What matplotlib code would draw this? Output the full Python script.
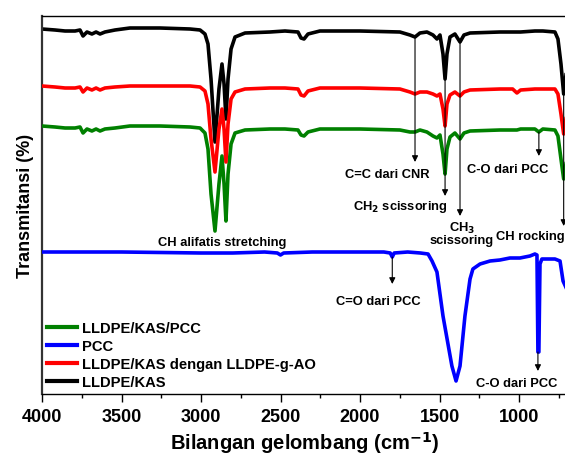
import numpy as np
import matplotlib.pyplot as plt
from matplotlib.ticker import MultipleLocator

plt.rcParams['font.family'] = ['Liberation Sans', 'DejaVu Sans']
plt.rcParams['font.weight'] = 'bold'

# spectra (wavenumber, arbitrary transmittance units with offsets)
wn_poly = [4000, 3918, 3855, 3792, 3761, 3742, 3717, 3686, 3660, 3635, 3604, 3541,
           3447, 3258, 3069, 3006, 2975, 2956, 2937, 2912, 2887, 2868, 2855, 2843,
           2830, 2811, 2786, 2723, 2566, 2472, 2390, 2371, 2352, 2327, 2252, 2000,
           1749, 1686, 1654, 1623, 1579, 1541, 1516, 1497, 1478, 1465, 1453, 1434,
           1403, 1371, 1346, 1308, 1120, 1040, 1013, 990, 900, 875, 850, 774, 755,
           736, 719, 700]

t_kas = [370, 369, 368, 368, 369, 363, 367, 365, 367, 365, 367, 369,
         371, 371, 370, 369, 365, 355, 320, 257, 310, 335, 315, 280,
         320, 350, 362, 366, 367, 368, 367, 361, 360, 365, 368, 368,
         367, 364, 362, 366, 367, 364, 360, 364, 345, 320, 345, 362,
         365, 357, 364, 366, 367, 367, 367, 367, 368, 368, 368, 367, 360,
         335, 305, 330]

t_kas_ao = [313, 312, 311, 311, 312, 307, 311, 309, 311, 309, 311, 312,
            313, 313, 313, 312, 308, 295, 260, 227, 270, 290, 270, 237,
            275, 300, 307, 310, 311, 311, 310, 304, 303, 308, 311, 311,
            310, 307, 305, 307, 307, 305, 303, 305, 290, 273, 295, 304,
            307, 303, 307, 309, 310, 310, 306, 309, 310, 310, 310, 310, 305,
            285, 265, 285]

t_kas_pcc = [273, 272, 271, 271, 272, 266, 270, 268, 270, 268, 270, 271,
             273, 273, 272, 271, 266, 250, 205, 168, 215, 243, 215, 178,
             225, 255, 266, 269, 270, 270, 269, 264, 263, 267, 270, 270,
             269, 267, 267, 269, 267, 263, 261, 264, 245, 225, 250, 262,
             266, 260, 266, 268, 269, 269, 269, 270, 270, 267, 270, 269, 263,
             240, 220, 240]

wn_pcc = [4000, 3700, 3500, 3000, 2800, 2600, 2520, 2500, 2480, 2300, 2000, 1850,
          1810, 1797, 1785, 1700, 1620, 1572, 1547, 1516, 1478, 1422, 1396, 1371,
          1340, 1308, 1290, 1245, 1182, 1120, 1057, 994, 931, 900, 887, 881, 875,
          868, 856, 774, 742, 723, 700]
t_pcc = [147, 147, 147, 146, 146, 147, 146, 144, 146, 147, 147, 147,
         146, 142, 146, 147, 146, 145, 138, 127, 83, 33, 18, 33,
         83, 120, 130, 135, 138, 139, 141, 141, 143, 145, 144, 47, 47,
         135, 140, 140, 138, 118, 110]

fig = plt.figure(figsize=(5.65, 4.6), dpi=100)
ax = fig.add_axes([42 / 565, 1 - 395 / 460, 524.7 / 565, 378 / 460])

lw = 2.6
ax.plot(wn_poly, t_kas, color='black', lw=lw, label='LLDPE/KAS', zorder=2)
ax.plot(wn_poly, t_kas_pcc, color='#008000', lw=lw, label='LLDPE/KAS/PCC', zorder=3)
ax.plot(wn_poly, t_kas_ao, color='red', lw=lw, label='LLDPE/KAS dengan LLDPE-g-AO', zorder=4)
ax.plot(wn_pcc, t_pcc, color='blue', lw=lw, label='PCC', zorder=5)

ax.set_xlim(4000, 700)
ax.set_ylim(5, 383)
ax.xaxis.set_major_locator(MultipleLocator(500))
ax.xaxis.set_minor_locator(MultipleLocator(250))
ax.tick_params(axis='x', which='major', direction='out', length=6, width=1, labelsize=13, pad=4)
ax.tick_params(axis='x', which='minor', direction='out', length=3, width=1)
ax.set_yticks([])
for lab in ax.get_xticklabels():
    lab.set_fontweight('bold')
ax.spines['right'].set_visible(False)
ax.spines['left'].set_linewidth(1.6)
ax.spines['left'].set_color('#333333')
ax.spines['bottom'].set_linewidth(1.0)
ax.spines['top'].set_linewidth(1.0)

ax.set_xlabel('Bilangan gelombang (cm$^{\\mathbf{-1}}$)', fontsize=14.5, fontweight='bold', labelpad=3)
ax.set_ylabel('Transmitansi (%)', fontsize=13, fontweight='bold', labelpad=6)

# annotations: arrows from band to label
arrows = [(1654, 362, 237), (1465, 320, 203), (1371, 357, 183), (875, 267, 243),
          (719, 305, 173), (1797, 142, 115), (881, 47, 28)]
for x, y0, y1 in arrows:
    ax.annotate('', xy=(x, y1), xytext=(x, y0),
                arrowprops=dict(arrowstyle='-|>', color='black', lw=0.8,
                                mutation_scale=9, shrinkA=0, shrinkB=0), zorder=6)

fs = 9.3
ax.text(1830, 225, 'C=C dari CNR', fontsize=fs, ha='center', va='center')
ax.text(1749, 193, 'CH$_\\mathbf{2}$ scissoring', fontsize=fs, ha='center', va='center')
ax.text(1359, 172, 'CH$_\\mathbf{3}$', fontsize=fs, ha='center', va='center')
ax.text(1359, 159, 'scissoring', fontsize=fs, ha='center', va='center')
ax.text(1069, 230, 'C-O dari PCC', fontsize=fs, ha='center', va='center')
ax.text(1145, 163, 'CH rocking', fontsize=fs, ha='left', va='center')
ax.text(2868, 157, 'CH alifatis stretching', fontsize=fs, ha='center', va='center')
ax.text(1887, 98, 'C=O dari PCC', fontsize=fs, ha='center', va='center')
ax.text(1013, 16, 'C-O dari PCC', fontsize=fs, ha='center', va='center')

h, l = ax.get_legend_handles_labels()
order = [1, 3, 2, 0]
leg = ax.legend([h[i] for i in order], [l[i] for i in order], loc='lower left',
                bbox_to_anchor=(-0.01, -0.015), frameon=False, fontsize=10.6,
                handlelength=2.0, handletextpad=0.4, labelspacing=0.28, borderaxespad=0.3)
for t in leg.get_texts():
    t.set_fontweight('bold')
for line in leg.get_lines():
    line.set_linewidth(3)

fig.savefig('out.png', dpi=100)
